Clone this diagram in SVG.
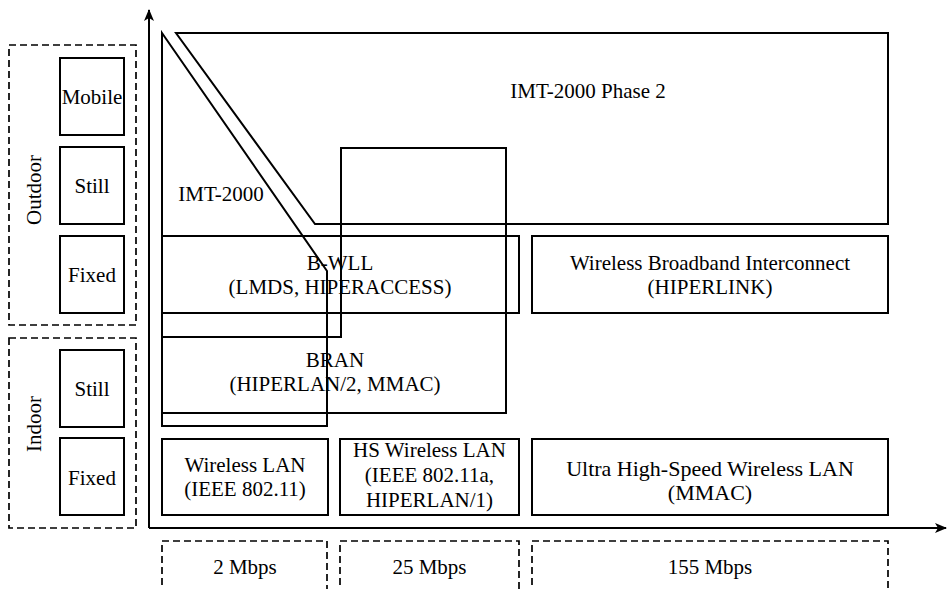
<svg xmlns="http://www.w3.org/2000/svg" width="950" height="589" viewBox="0 0 950 589">
<style>
.s{fill:none;stroke:#000;stroke-width:2}
.d{fill:none;stroke:#000;stroke-width:1.7;stroke-dasharray:7 4}
text{font-family:"Liberation Serif","Times New Roman",serif;font-size:21px;fill:#000;text-anchor:middle}
.big{font-size:22px}
</style>
<defs>
<marker id="ah" viewBox="0 0 12 10" refX="11" refY="5" markerWidth="12" markerHeight="10" markerUnits="userSpaceOnUse" orient="auto">
<path d="M0,0 L12,5 L0,10 L3,5 Z" fill="#000"/>
</marker>
</defs>
<rect width="950" height="589" fill="#fff"/>

<g id="outdoor">
<rect class="d" x="9" y="45" width="127" height="280"/>
<text transform="translate(41,190) rotate(-90)">Outdoor</text>
</g>
<g id="indoor">
<rect class="d" x="9" y="338" width="127" height="190"/>
<text transform="translate(41,424) rotate(-90)">Indoor</text>
</g>
<g id="mobile"><rect class="s" x="60" y="58" width="64" height="77"/><text x="92" y="104">Mobile</text></g>
<g id="outdoor-still"><rect class="s" x="60" y="147" width="64" height="77"/><text x="92" y="193">Still</text></g>
<g id="outdoor-fixed"><rect class="s" x="60" y="236" width="64" height="77"/><text x="92" y="282">Fixed</text></g>
<g id="indoor-still"><rect class="s" x="60" y="350" width="64" height="77"/><text x="92" y="396">Still</text></g>
<g id="indoor-fixed"><rect class="s" x="60" y="438" width="64" height="77"/><text x="92" y="485">Fixed</text></g>

<g id="connectors">
<path class="s" d="M149,528 L149,10" marker-end="url(#ah)"/>
<path class="s" d="M149,528 L946,528" marker-end="url(#ah)"/>
</g>

<g id="imt2000-phase2">
<path class="s" d="M176,33 L888,33 L888,224 L315,224 Z"/>
<text x="588" y="98">IMT-2000 Phase 2</text>
</g>
<g id="imt2000">
<path class="s" d="M162,33 L327,271 L327,426 L162,426 Z"/>
<text x="221" y="201">IMT-2000</text>
</g>
<g id="bran">
<path class="s" d="M341,148 L506,148 L506,413 L162,413 L162,337 L341,337 Z"/>
<text x="335" y="367">BRAN</text>
<text x="335" y="391">(HIPERLAN/2, MMAC)</text>
</g>
<g id="bwll">
<rect class="s" x="162" y="236" width="357" height="77"/>
<text x="340" y="270">B-WLL</text>
<text x="340" y="294">(LMDS, HIPERACCESS)</text>
</g>
<g id="wbi">
<rect class="s" x="532" y="236" width="356" height="77"/>
<text x="710" y="270">Wireless Broadband Interconnect</text>
<text x="710" y="294">(HIPERLINK)</text>
</g>
<g id="wlan">
<rect class="s" x="162" y="439" width="166" height="76"/>
<text x="245" y="472">Wireless LAN</text>
<text x="245" y="496">(IEEE 802.11)</text>
</g>
<g id="hswlan">
<rect class="s" x="340" y="439" width="179" height="76"/>
<text x="429.5" y="457">HS Wireless LAN</text>
<text x="429.5" y="482">(IEEE 802.11a,</text>
<text x="429.5" y="507">HIPERLAN/1)</text>
</g>
<g id="uhswlan">
<rect class="s" x="532" y="439" width="356" height="76"/>
<text class="big" x="710" y="476">Ultra High-Speed Wireless LAN</text>
<text class="big" x="710" y="500">(MMAC)</text>
</g>

<g id="r2"><path class="d" d="M162,596 L162,541 L327,541 L327,596"/><text x="245" y="574">2 Mbps</text></g>
<g id="r25"><path class="d" d="M340,596 L340,541 L519,541 L519,596"/><text x="429.5" y="574">25 Mbps</text></g>
<g id="r155"><path class="d" d="M532,596 L532,541 L888,541 L888,596"/><text x="710" y="574">155 Mbps</text></g>
</svg>
